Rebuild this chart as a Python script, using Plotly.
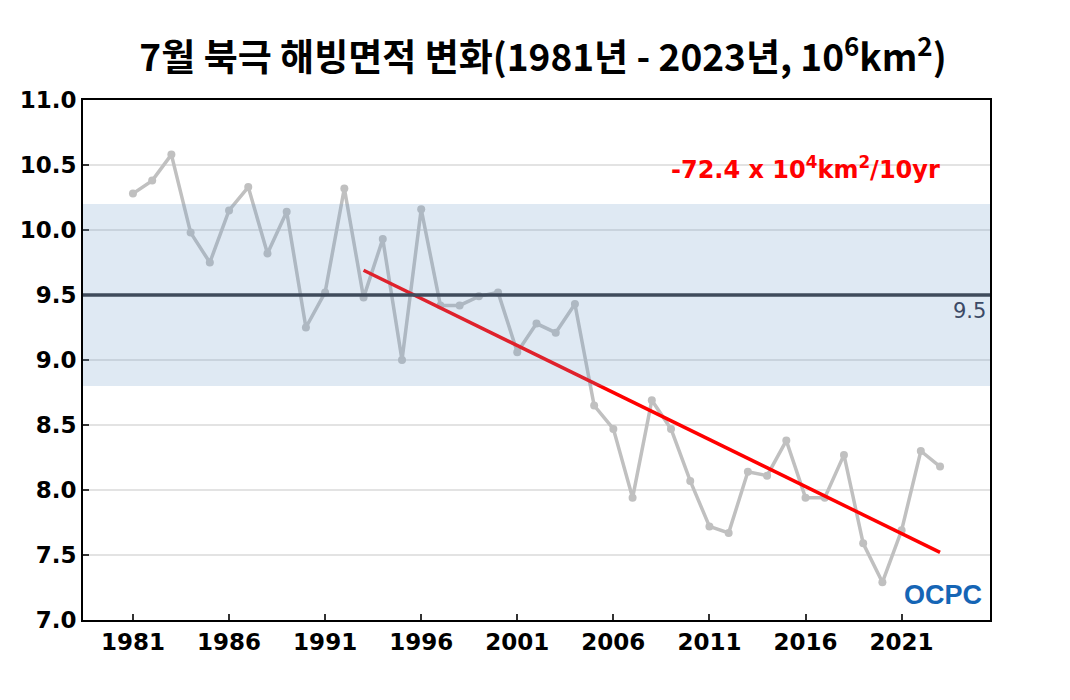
import plotly.graph_objects as go

# 7월 북극 해빙면적 (10^6 km^2), 1981-2023
years = list(range(1981, 2024))
extent = [10.28, 10.38, 10.58, 9.98, 9.75, 10.15, 10.33, 9.82, 10.14, 9.25,
          9.52, 10.32, 9.48, 9.93, 9.00, 10.16, 9.42, 9.42, 9.49, 9.52,
          9.06, 9.28, 9.21, 9.43, 8.65, 8.47, 7.94, 8.69, 8.47, 8.07,
          7.72, 7.67, 8.14, 8.11, 8.38, 7.94, 7.94, 8.27, 7.59, 7.29,
          7.69, 8.30, 8.18]

# trend line (1993-2023)
trend_years = [1993, 2023]
trend_values = [9.69, 7.52]

clim_mean = 9.5
band_low, band_high = 8.8, 10.2

xtick_years = list(range(1981, 2022, 5))

TICK_FONT = dict(family='DejaVu Sans', size=23, color='black', weight='bold')

fig = go.Figure()

fig.add_trace(go.Scatter(
    x=years, y=extent, mode='lines+markers',
    line=dict(color='#c0c0c0', width=3.5),
    marker=dict(color='#c0c0c0', size=8),
    showlegend=False))

fig.add_trace(go.Scatter(
    x=trend_years, y=trend_values, mode='lines',
    line=dict(color='#ff0000', width=3.5),
    showlegend=False))

# 평년 범위
fig.add_hrect(y0=band_low, y1=band_high, line_width=0,
              fillcolor='rgba(110,155,200,0.22)', layer='above')
fig.add_hline(y=clim_mean, line=dict(color='#3f4b5b', width=3.5), layer='above')

fig.add_annotation(x=1, xref='paper', y=clim_mean, yref='y',
                   text='9.5', showarrow=False, xanchor='right', yanchor='top',
                   yshift=-2, xshift=-2,
                   font=dict(family='DejaVu Sans', size=21, color='#3c4a66'))

fig.add_annotation(x=0.797, xref='paper', y=10.48, yref='y',
                   text='-72.4 x 10<sup>4</sup>km<sup>2</sup>/10yr',
                   showarrow=False, xanchor='center', yanchor='middle',
                   font=dict(family='DejaVu Sans', size=24, color='#ff0000',
                             weight='bold'))

fig.add_annotation(x=0.993, xref='paper', y=0.015, yref='paper',
                   text='OCPC', showarrow=False, xanchor='right',
                   yanchor='bottom',
                   font=dict(family='Liberation Sans', size=27,
                             color='#1565b5', weight='bold'))

fig.update_layout(
    width=1070, height=700,
    margin=dict(l=72, r=88, t=92, b=88),
    paper_bgcolor='white', plot_bgcolor='white',
    title=dict(text='7월 북극 해빙면적 변화(1981년 - 2023년, 10<sup>6</sup>km<sup>2</sup>)',
               x=0.5, xanchor='center', y=0.928, yanchor='middle',
               font=dict(family='Noto Sans CJK KR', size=37, color='black',
                         weight='bold')),
    xaxis=dict(range=[1978.4, 2025.6], tickvals=xtick_years,
               ticks='inside', ticklen=6, tickcolor='#333', tickwidth=2,
               showgrid=False, showline=True, linecolor='black',
               linewidth=2, mirror=True, zeroline=False,
               tickfont=TICK_FONT),
    yaxis=dict(range=[7, 11], dtick=0.5, tickformat='.1f',
               ticks='inside', ticklen=6, tickcolor='#333', tickwidth=2,
               showgrid=True, gridcolor='#e3e3e3', gridwidth=1.5,
               showline=True, linecolor='black', linewidth=2, mirror=True,
               zeroline=False, tickfont=TICK_FONT),
)

fig.write_html('out.html')
